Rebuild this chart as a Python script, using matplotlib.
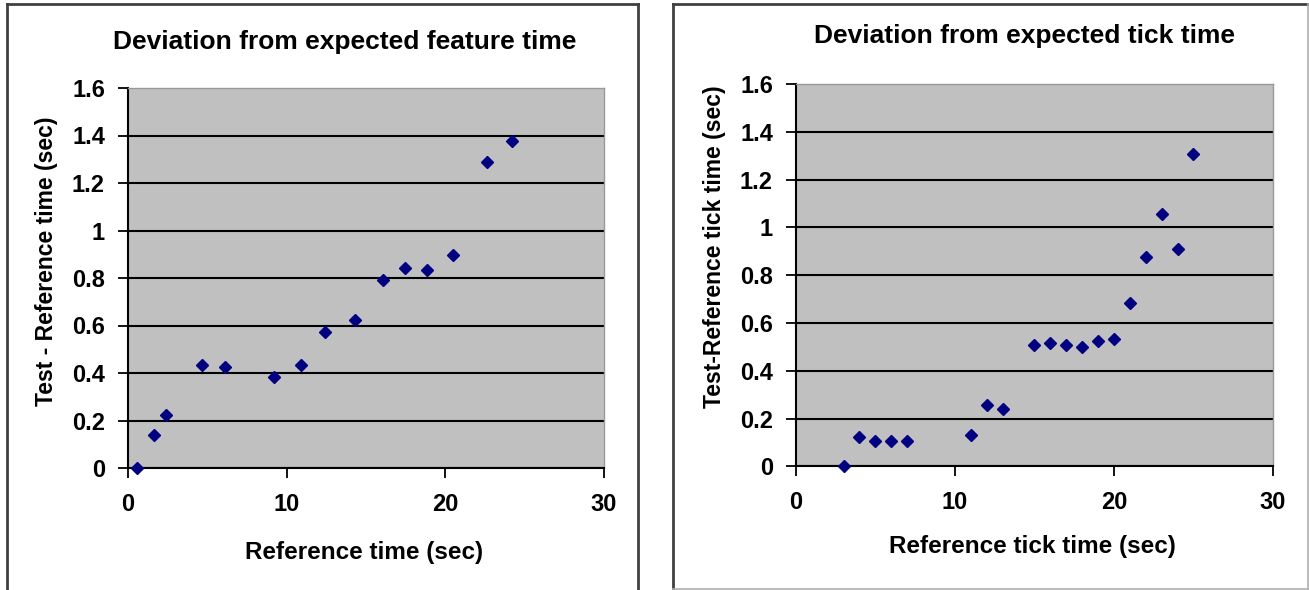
import matplotlib
matplotlib.use('Agg')
import matplotlib.pyplot as plt
from matplotlib.lines import Line2D
from matplotlib.ticker import FuncFormatter


W, H = 1309, 590

# left chart: deviation from expected feature time
feature_x = [0.6, 1.65, 2.4, 4.7, 6.1, 9.2, 10.9, 12.4, 14.3, 16.05, 17.45, 18.85, 20.5, 22.65, 24.2]
feature_y = [0.0, 0.137, 0.225, 0.434, 0.427, 0.382, 0.434, 0.573, 0.625, 0.793, 0.842, 0.835, 0.895, 1.29, 1.377]

# right chart: deviation from expected tick time
tick_x = [3, 4, 5, 6, 7, 11, 12, 13, 15, 16, 17, 18, 19, 20, 21, 22, 23, 24, 25]
tick_y = [0.0, 0.124, 0.107, 0.107, 0.107, 0.13, 0.257, 0.24, 0.508, 0.515, 0.508, 0.499, 0.524, 0.532,
          0.682, 0.875, 1.057, 0.909, 1.307]

x_ticks = [0, 10, 20, 30]
y_ticks = [0, 0.2, 0.4, 0.6, 0.8, 1.0, 1.2, 1.4, 1.6]

plt.rcParams['font.family'] = ['Liberation Sans', 'DejaVu Sans']
plt.rcParams['font.weight'] = 'bold'


def px(x, y):
    # pixel position in the picture -> figure fraction
    return x / W, 1 - y / H


def ax_rect(left, top, right, bottom):
    x0, y0 = px(left, bottom)
    x1, y1 = px(right, top)
    return [x0, y0, x1 - x0, y1 - y0]


def draw_panel(ax, xs, ys):
    ax.set_facecolor('#C0C0C0')
    ax.plot(xs, ys, linestyle='none', marker='D', markersize=6.2,
            color='#000080', markeredgecolor='#000080', zorder=3, clip_on=False)
    ax.set_xlim(x_ticks[0], x_ticks[-1])
    ax.set_ylim(y_ticks[0], y_ticks[-1])
    ax.set_xticks(x_ticks)
    ax.set_yticks(y_ticks)
    ax.yaxis.set_major_formatter(FuncFormatter(lambda v, p: f'{v:g}'))
    ax.yaxis.grid(True, color='black', linewidth=1.5)
    ax.get_ygridlines()[-1].set_visible(False)
    ax.set_axisbelow(True)
    ax.tick_params(axis='both', direction='out', length=7, width=1.3,
                   labelsize=17, colors='black')
    ax.tick_params(axis='y', pad=9.5)
    ax.tick_params(axis='x', pad=11)
    for lab in ax.get_xticklabels() + ax.get_yticklabels():
        lab.set_fontweight('bold')
    for side in ['left', 'bottom']:
        ax.spines[side].set_color('black')
        ax.spines[side].set_linewidth(1.5)
    for side in ['top', 'right']:
        ax.spines[side].set_color('#999999')
        ax.spines[side].set_linewidth(1.0)


def frame_line(fig, p0, p1, color, lw):
    (x0, y0), (x1, y1) = px(*p0), px(*p1)
    fig.add_artist(Line2D([x0, x1], [y0, y1], transform=fig.transFigure,
                          color=color, linewidth=lw))


fig = plt.figure(figsize=(W / 100, H / 100), dpi=100)

ax1 = fig.add_axes(ax_rect(127.8, 88, 604, 468))
draw_panel(ax1, feature_x, feature_y)
ax2 = fig.add_axes(ax_rect(795.8, 84, 1273, 466.3))
draw_panel(ax2, tick_x, tick_y)

# titles and axis labels
fig.text(*px(345, 42), 'Deviation from expected feature time', fontsize=19,
         fontweight='bold', ha='center', va='center')
fig.text(*px(364, 552), 'Reference time (sec)', fontsize=17.5,
         fontweight='bold', ha='center', va='center')
fig.text(*px(46.7, 261.5), 'Test - Reference time (sec)', fontsize=16.5,
         fontweight='bold', ha='center', va='center', rotation=90)

fig.text(*px(1024, 36), 'Deviation from expected tick time', fontsize=19,
         fontweight='bold', ha='center', va='center')
fig.text(*px(1032, 547), 'Reference tick time (sec)', fontsize=17.5,
         fontweight='bold', ha='center', va='center')
fig.text(*px(715, 247), 'Test-Reference tick time (sec)', fontsize=16.5,
         fontweight='bold', ha='center', va='center', rotation=90)

# chart frames
dark = '#404040'
light = '#B0B0B0'
frame_line(fig, (6.5, 4), (638, 4), dark, 2)
frame_line(fig, (6.5, 4), (6.5, 595), dark, 2)
frame_line(fig, (638, 4), (638, 595), dark, 2)

frame_line(fig, (672.5, 3.5), (1308, 3.5), dark, 2)
frame_line(fig, (672.5, 3.5), (672.5, 589), dark, 2)
frame_line(fig, (1308, 3.5), (1308, 589), light, 1.2)
frame_line(fig, (672.5, 589), (1308, 589), light, 1.2)

plt.savefig('out.png', dpi=100)
